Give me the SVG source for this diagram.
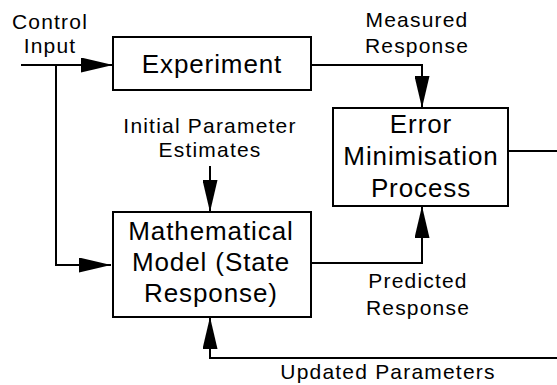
<svg xmlns="http://www.w3.org/2000/svg" width="557" height="385" viewBox="0 0 557 385">
<style>
.box{fill:#fff;stroke:#000;stroke-width:2}
.big{font-family:"Liberation Sans",Arial,sans-serif;font-size:26px;letter-spacing:0.9px;text-anchor:middle;fill:#000}
.sm{font-family:"Liberation Sans",Arial,sans-serif;font-size:21px;letter-spacing:1.2px;text-anchor:middle;fill:#000}
.ln{fill:none;stroke:#000;stroke-width:2}
</style>
<defs>
<marker id="ah" markerUnits="userSpaceOnUse" markerWidth="32" markerHeight="15" refX="32" refY="7.5" orient="auto">
<path d="M0,0 L32,7.5 L0,15 z" fill="#000"/>
</marker>
</defs>
<rect width="557" height="385" fill="#fff"/>
<g id="connectors">
<path class="ln" d="M21,65 H113" marker-end="url(#ah)"/>
<path class="ln" d="M56,65 V265 H111" marker-end="url(#ah)"/>
<path class="ln" d="M311,65 H422 V108" marker-end="url(#ah)"/>
<path class="ln" d="M311,263 H422 V206" marker-end="url(#ah)"/>
<path class="ln" d="M508,151 H560 V358 H210 V317" marker-end="url(#ah)"/>
<path class="ln" d="M210,166 V212" marker-end="url(#ah)"/>
</g>
<g id="experiment">
<rect class="box" x="113" y="37" width="198" height="53"/>
<text class="big" x="212" y="73">Experiment</text>
</g>
<g id="error-minimisation">
<rect class="box" x="333" y="108" width="175" height="98"/>
<text class="big" x="421" y="133">Error</text>
<text class="big" x="421" y="165">Minimisation</text>
<text class="big" x="421" y="197">Process</text>
</g>
<g id="mathematical-model">
<rect class="box" x="113" y="212" width="198" height="105"/>
<text class="big" x="211" y="240">Mathematical</text>
<text class="big" x="211" y="271">Model (State</text>
<text class="big" x="211" y="302">Response)</text>
</g>
<g id="labels">
<text class="sm" x="50" y="29">Control</text>
<text class="sm" x="50" y="53">Input</text>
<text class="sm" x="417" y="27">Measured</text>
<text class="sm" x="417" y="53">Response</text>
<text class="sm" x="210" y="133">Initial Parameter</text>
<text class="sm" x="210" y="157">Estimates</text>
<text class="sm" x="418" y="288">Predicted</text>
<text class="sm" x="418" y="315">Response</text>
<text class="sm" x="388" y="379">Updated Parameters</text>
</g>
</svg>
